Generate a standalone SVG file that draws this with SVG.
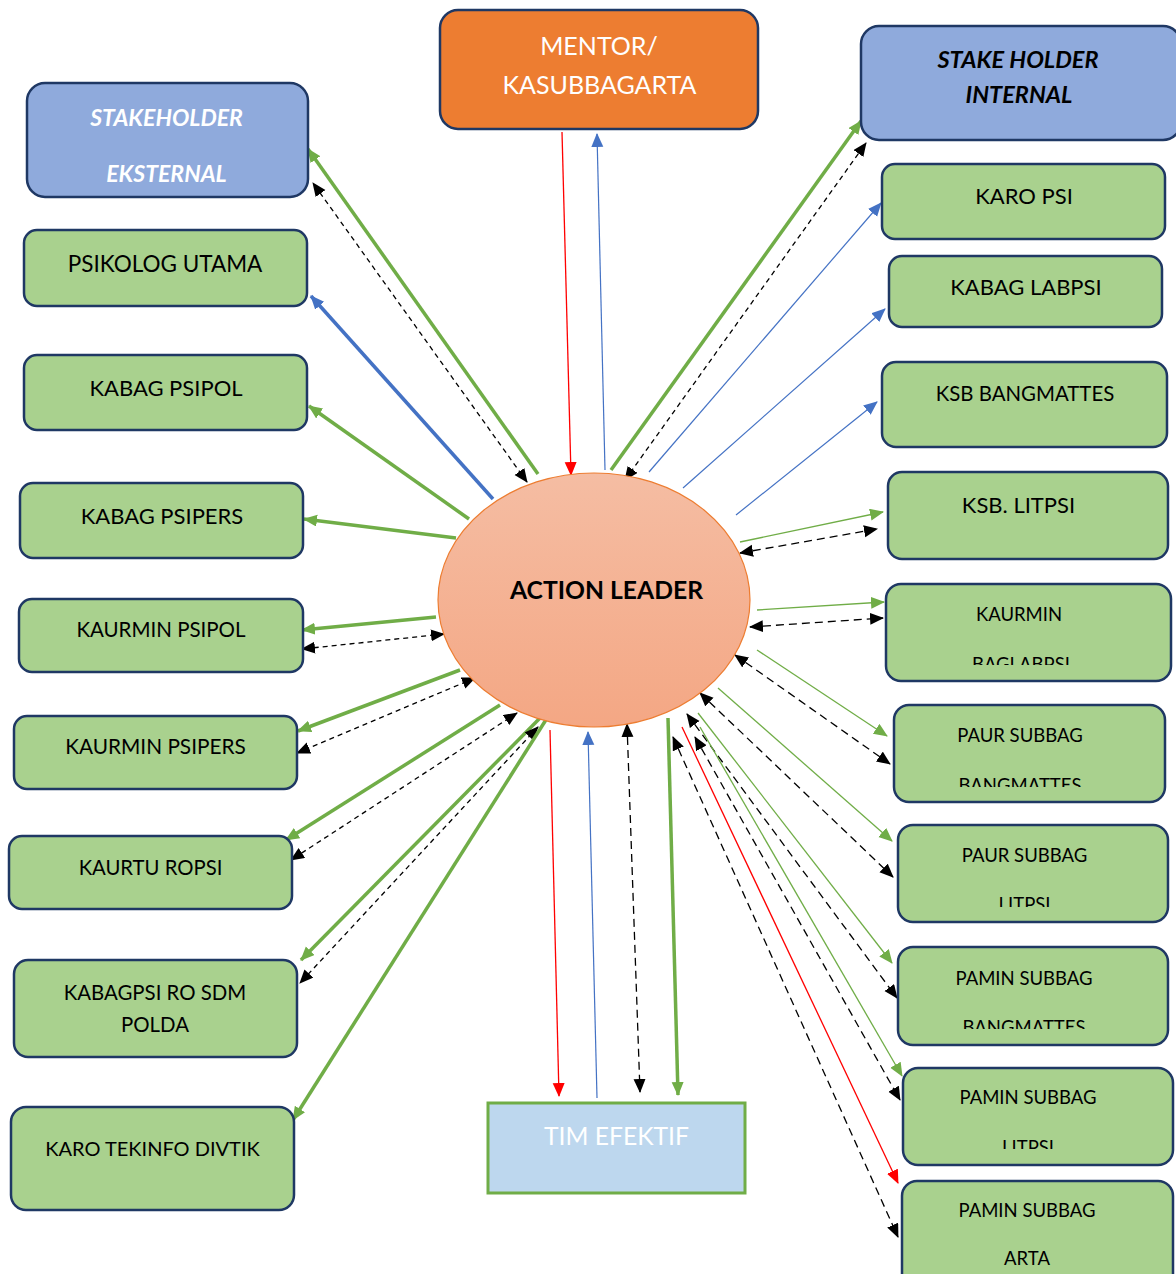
<svg xmlns="http://www.w3.org/2000/svg" width="1176" height="1274" viewBox="0 0 1176 1274">
<style>
.bx{fill:#A9D18E;stroke:#1F3864;stroke-width:2.5}
.bb{fill:#8FAADC;stroke:#1F3864;stroke-width:2.5}
.t{font-family:Lato,"Open Sans",sans-serif;fill:#000;text-anchor:middle}
.w{fill:#fff}
.gT{stroke:#70AD47;stroke-width:3.5;fill:none;marker-end:url(#ag)}
.bT{stroke:#4472C4;stroke-width:3.5;fill:none;marker-end:url(#ab)}
.gt{stroke:#70AD47;stroke-width:1.3;fill:none;marker-end:url(#ag)}
.bt{stroke:#4472C4;stroke-width:1.2;fill:none;marker-end:url(#ab)}
.rt{stroke:#FF0000;stroke-width:1.3;fill:none;marker-end:url(#ar)}
.dk{stroke:#000;stroke-width:1.3;fill:none;stroke-dasharray:5 4;marker-start:url(#ak);marker-end:url(#ak)}
.dk2{stroke:#000;stroke-width:1.3;fill:none;stroke-dasharray:8 5;marker-start:url(#ak);marker-end:url(#ak)}
</style>
<defs>
<marker id="ag" markerWidth="16" markerHeight="14" refX="13" refY="6" orient="auto" markerUnits="userSpaceOnUse"><path d="M0,0 L14,6 L0,12 z" fill="#70AD47"/></marker>
<marker id="ab" markerWidth="16" markerHeight="14" refX="13" refY="6" orient="auto" markerUnits="userSpaceOnUse"><path d="M0,0 L14,6 L0,12 z" fill="#4472C4"/></marker>
<marker id="ar" markerWidth="16" markerHeight="14" refX="13" refY="6" orient="auto" markerUnits="userSpaceOnUse"><path d="M0,0 L14,6 L0,12 z" fill="#FF0000"/></marker>
<marker id="ak" markerWidth="16" markerHeight="14" refX="13" refY="6" orient="auto-start-reverse" markerUnits="userSpaceOnUse"><path d="M0,0 L14,6 L0,12 z" fill="#000"/></marker>
<linearGradient id="eg" x1="0" y1="0" x2="0" y2="1"><stop offset="0" stop-color="#F5BDA3"/><stop offset="1" stop-color="#F4A784"/></linearGradient>
<clipPath id="c1"><rect x="885" y="583" width="286" height="82"/></clipPath>
<clipPath id="c2"><rect x="893" y="704" width="272" height="83"/></clipPath>
<clipPath id="c3"><rect x="897" y="824" width="272" height="83"/></clipPath>
<clipPath id="c4"><rect x="897" y="946" width="272" height="83"/></clipPath>
<clipPath id="c5"><rect x="902" y="1067" width="271" height="82"/></clipPath>
</defs>
<rect width="1176" height="1274" fill="#fff"/>

<g id="connectors">
<line class="rt" x1="562" y1="132" x2="571" y2="475"/>
<line class="bt" x1="605" y1="470" x2="597" y2="134"/>
<line class="gT" x1="538" y1="474" x2="308" y2="149"/>
<line class="dk" x1="527" y1="482" x2="313" y2="183"/>
<line class="bT" x1="493" y1="499" x2="311" y2="296"/>
<line class="gT" x1="469" y1="519" x2="309" y2="406"/>
<line class="gT" x1="456" y1="538" x2="304" y2="519"/>
<line class="gT" x1="436" y1="617" x2="302" y2="630"/>
<line class="dk" x1="444" y1="634" x2="302" y2="649"/>
<line class="gT" x1="460" y1="670" x2="298" y2="731"/>
<line class="dk" x1="475" y1="678" x2="297" y2="753"/>
<line class="gT" x1="500" y1="705" x2="286" y2="840"/>
<line class="dk" x1="517" y1="713" x2="291" y2="860"/>
<line class="gT" x1="543" y1="715" x2="301" y2="960"/>
<line class="dk" x1="538" y1="727" x2="300" y2="983"/>
<line class="gT" x1="549" y1="715" x2="293" y2="1120"/>
<line class="gT" x1="611" y1="470" x2="861" y2="121"/>
<line class="dk" x1="625" y1="480" x2="866" y2="143"/>
<line class="bt" x1="649" y1="472" x2="881" y2="203"/>
<line class="bt" x1="683" y1="488" x2="885" y2="309"/>
<line class="bt" x1="736" y1="515" x2="877" y2="402"/>
<line class="gt" x1="740" y1="542" x2="883" y2="512"/>
<line class="dk2" x1="740" y1="553" x2="877" y2="529"/>
<line class="gt" x1="757" y1="610" x2="884" y2="602"/>
<line class="dk2" x1="750" y1="627" x2="883" y2="618"/>
<line class="gt" x1="757" y1="650" x2="887" y2="736"/>
<line class="dk2" x1="735" y1="655" x2="890" y2="764"/>
<line class="gt" x1="718" y1="688" x2="892" y2="841"/>
<line class="dk2" x1="700" y1="693" x2="893" y2="877"/>
<line class="gt" x1="698" y1="713" x2="892" y2="963"/>
<line class="dk2" x1="687" y1="714" x2="897" y2="998"/>
<line class="gt" x1="700" y1="727" x2="902" y2="1076"/>
<line class="dk2" x1="695" y1="737" x2="900" y2="1100"/>
<line class="rt" x1="682" y1="727" x2="898" y2="1183"/>
<line class="dk2" x1="673" y1="737" x2="898" y2="1237"/>
<line class="rt" x1="550" y1="730" x2="559" y2="1096"/>
<line class="bt" x1="597" y1="1098" x2="588" y2="732"/>
<line class="dk2" x1="627" y1="724" x2="640" y2="1092"/>
<line class="gT" x1="668" y1="718" x2="678" y2="1095"/>
</g>

<g id="action-leader">
<ellipse cx="594" cy="600" rx="156" ry="127" fill="url(#eg)" stroke="#ED7D31" stroke-width="1.2"/>
<text class="t" x="606.5" y="599" font-size="24.7" font-weight="bold">ACTION LEADER</text>
</g>

<g id="mentor">
<rect x="440" y="10" width="318" height="119" rx="18" fill="#ED7D31" stroke="#1F3864" stroke-width="2.5"/>
<text class="t w" x="599" y="55" font-size="25">MENTOR/</text>
<text class="t w" x="599.5" y="94" font-size="25">KASUBBAGARTA</text>
</g>

<g id="stakeholder-eksternal">
<rect class="bb" x="27" y="83" width="281" height="114" rx="18"/>
<text class="t w" x="166.5" y="126" font-size="23" font-weight="bold" font-style="italic">STAKEHOLDER</text>
<text class="t w" x="166.5" y="182" font-size="23" font-weight="bold" font-style="italic">EKSTERNAL</text>
</g>

<g id="stakeholder-internal">
<rect class="bb" x="861" y="26" width="320" height="114" rx="18"/>
<text class="t" x="1018" y="68" font-size="23.5" font-weight="bold" font-style="italic">STAKE HOLDER</text>
<text class="t" x="1019" y="103" font-size="23.5" font-weight="bold" font-style="italic">INTERNAL</text>
</g>

<g id="psikolog-utama"><rect class="bx" x="24" y="230" width="283" height="76" rx="13"/><text class="t" x="165" y="272" font-size="22.5">PSIKOLOG UTAMA</text></g>
<g id="kabag-psipol"><rect class="bx" x="24" y="355" width="283" height="75" rx="13"/><text class="t" x="166" y="396" font-size="22">KABAG PSIPOL</text></g>
<g id="kabag-psipers"><rect class="bx" x="20" y="483" width="283" height="75" rx="13"/><text class="t" x="162" y="524" font-size="22">KABAG PSIPERS</text></g>
<g id="kaurmin-psipol"><rect class="bx" x="19" y="599" width="284" height="73" rx="13"/><text class="t" x="161" y="637" font-size="20.5">KAURMIN PSIPOL</text></g>
<g id="kaurmin-psipers"><rect class="bx" x="14" y="716" width="283" height="73" rx="13"/><text class="t" x="155.5" y="754" font-size="20.8">KAURMIN PSIPERS</text></g>
<g id="kaurtu-ropsi"><rect class="bx" x="9" y="836" width="283" height="73" rx="13"/><text class="t" x="150.5" y="875" font-size="20.3">KAURTU ROPSI</text></g>
<g id="kabagpsi-ro-sdm"><rect class="bx" x="14" y="960" width="283" height="97" rx="14"/><text class="t" x="155" y="1000" font-size="20.4">KABAGPSI RO SDM</text><text class="t" x="155" y="1032" font-size="20.4">POLDA</text></g>
<g id="karo-tekinfo"><rect class="bx" x="11" y="1107" width="283" height="103" rx="15"/><text class="t" x="152.5" y="1156" font-size="20">KARO TEKINFO DIVTIK</text></g>

<g id="karo-psi"><rect class="bx" x="882" y="164" width="283" height="75" rx="13"/><text class="t" x="1024" y="204" font-size="22">KARO PSI</text></g>
<g id="kabag-labpsi"><rect class="bx" x="889" y="256" width="273" height="71" rx="13"/><text class="t" x="1026" y="295" font-size="22">KABAG LABPSI</text></g>
<g id="ksb-bangmattes"><rect class="bx" x="882" y="362" width="285" height="85" rx="14"/><text class="t" x="1025" y="401" font-size="20.4">KSB BANGMATTES</text></g>
<g id="ksb-litpsi"><rect class="bx" x="888" y="472" width="280" height="87" rx="14"/><text class="t" x="1018.5" y="513" font-size="22">KSB. LITPSI</text></g>
<g id="kaurmin-baglabpsi"><rect class="bx" x="886" y="584" width="285" height="97" rx="15"/><text class="t" x="1019" y="621" font-size="18.5">KAURMIN</text><text class="t" x="1021" y="671" font-size="18.5" clip-path="url(#c1)">BAGLABPSI</text></g>
<g id="paur-bangmattes"><rect class="bx" x="894" y="705" width="271" height="97" rx="15"/><text class="t" x="1020" y="742" font-size="18.5">PAUR SUBBAG</text><text class="t" x="1020" y="792" font-size="18.5" clip-path="url(#c2)">BANGMATTES</text></g>
<g id="paur-litpsi"><rect class="bx" x="898" y="825" width="270" height="97" rx="15"/><text class="t" x="1024.5" y="862" font-size="18.5">PAUR SUBBAG</text><text class="t" x="1024.5" y="911" font-size="18.5" clip-path="url(#c3)">LITPSI</text></g>
<g id="pamin-bangmattes"><rect class="bx" x="898" y="947" width="270" height="98" rx="15"/><text class="t" x="1024" y="985" font-size="18.5">PAMIN SUBBAG</text><text class="t" x="1024" y="1034" font-size="18.5" clip-path="url(#c4)">BANGMATTES</text></g>
<g id="pamin-litpsi"><rect class="bx" x="903" y="1068" width="270" height="97" rx="15"/><text class="t" x="1028" y="1104" font-size="18.5">PAMIN SUBBAG</text><text class="t" x="1028" y="1154" font-size="18.5" clip-path="url(#c5)">LITPSI</text></g>
<g id="pamin-arta"><rect class="bx" x="902" y="1181" width="271" height="110" rx="15"/><text class="t" x="1027" y="1217" font-size="18.5">PAMIN SUBBAG</text><text class="t" x="1027" y="1265" font-size="18.5">ARTA</text></g>

<g id="tim-efektif">
<rect x="488" y="1103" width="257" height="90" fill="#BDD7EE" stroke="#70AD47" stroke-width="3"/>
<text class="t w" x="616.5" y="1145" font-size="24.7">TIM EFEKTIF</text>
</g>
</svg>
